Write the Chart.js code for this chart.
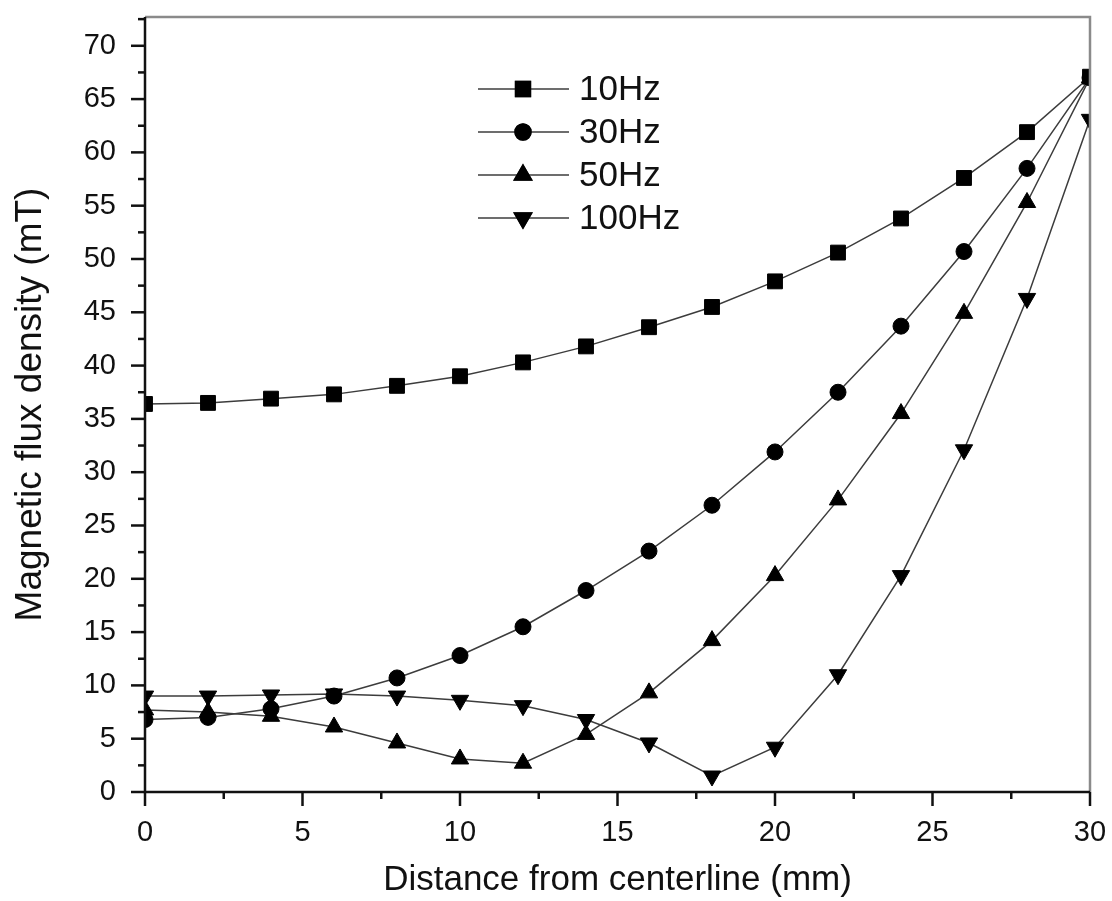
<!DOCTYPE html>
<html>
<head>
<meta charset="utf-8">
<script src="https://cdn.jsdelivr.net/npm/chart.js@4.4.1/dist/chart.umd.min.js"></script>
<style>
  html, body { margin: 0; padding: 0; background: #fff; }
  #wrap { width: 1112px; height: 901px; }
</style>
</head>
<body>
<div id="wrap"><canvas id="c" width="1112" height="901"></canvas></div>
<script>
// Distance from centerline (mm)
const distance = [0, 2, 4, 6, 8, 10, 12, 14, 16, 18, 20, 22, 24, 26, 28, 30];

// Magnetic flux density (mT) per excitation frequency
const flux10Hz  = [36.4, 36.5, 36.9, 37.3, 38.1, 39.0, 40.3, 41.8, 43.6, 45.5, 47.9, 50.6, 53.8, 57.6, 61.9, 67.1];
const flux30Hz  = [6.8, 7.0, 7.8, 9.0, 10.7, 12.8, 15.5, 18.9, 22.6, 26.9, 31.9, 37.5, 43.7, 50.7, 58.5, 67.0];
const flux50Hz  = [7.7, 7.5, 7.1, 6.1, 4.6, 3.1, 2.7, 5.4, 9.3, 14.2, 20.3, 27.4, 35.5, 44.9, 55.3, 67.0];
const flux100Hz = [9.0, 9.0, 9.1, 9.2, 9.0, 8.6, 8.1, 6.8, 4.6, 1.5, 4.2, 11.0, 20.3, 32.1, 46.3, 63.1];

const seriesLabels = ['10Hz', '30Hz', '50Hz', '100Hz'];

const yTickLabels = [0, 5, 10, 15, 20, 25, 30, 35, 40, 45, 50, 55, 60, 65, 70];
const xTickLabels = [0, 5, 10, 15, 20, 25, 30];

const FONT = 'Liberation Sans, Arial, Helvetica, sans-serif';
const LINE = '#3c3c3c';

function toPoints(ys) {
  return distance.map((x, i) => ({ x: x, y: ys[i] }));
}

const markers = [
  { pointStyle: 'rect',     radius: 10.5, rotation: 0 },
  { pointStyle: 'circle',   radius: 8,    rotation: 0 },
  { pointStyle: 'triangle', radius: 10,   rotation: 0 },
  { pointStyle: 'triangle', radius: 10,   rotation: 180 }
];

const allSeries = [flux10Hz, flux30Hz, flux50Hz, flux100Hz];

const datasets = allSeries.map((ys, i) => ({
  label: seriesLabels[i],
  data: toPoints(ys),
  borderColor: LINE,
  borderWidth: 1.5,
  backgroundColor: '#000',
  pointStyle: markers[i].pointStyle,
  pointRadius: markers[i].radius,
  pointRotation: markers[i].rotation,
  pointBackgroundColor: '#000',
  pointBorderColor: '#000',
  pointBorderWidth: 1,
  pointHoverRadius: markers[i].radius,
  tension: 0,
  fill: false
}));

// Frame, major/minor tick marks and the in-plot legend
const framePlugin = {
  id: 'frame',
  afterDraw(chart) {
    const ctx = chart.ctx;
    const a = chart.chartArea;
    const xs = chart.scales.x;
    const ys = chart.scales.y;
    ctx.save();

    // top and right borders (lighter)
    ctx.strokeStyle = '#8a8a8a';
    ctx.lineWidth = 2.5;
    ctx.beginPath();
    ctx.moveTo(a.left, a.top);
    ctx.lineTo(a.right, a.top);
    ctx.lineTo(a.right, a.bottom);
    ctx.stroke();

    // left and bottom axes
    ctx.strokeStyle = '#111';
    ctx.lineWidth = 2.5;
    ctx.beginPath();
    ctx.moveTo(a.left, a.top);
    ctx.lineTo(a.left, a.bottom);
    ctx.lineTo(a.right, a.bottom);
    ctx.stroke();

    // tick marks, pointing outward
    ctx.lineWidth = 2.5;
    ys.ticks.forEach(t => {
      const p = ys.getPixelForValue(t.value);
      const major = Math.abs(t.value % 5) < 1e-6;
      const len = major ? 14 : 7;
      ctx.beginPath();
      ctx.moveTo(a.left - len, p);
      ctx.lineTo(a.left, p);
      ctx.stroke();
    });
    xs.ticks.forEach(t => {
      const p = xs.getPixelForValue(t.value);
      const major = Math.abs(t.value % 5) < 1e-6;
      const len = major ? 14 : 7;
      ctx.beginPath();
      ctx.moveTo(p, a.bottom);
      ctx.lineTo(p, a.bottom + len);
      ctx.stroke();
    });

    // legend
    const lx0 = 478, lx1 = 569, mx = 523, tx = 579;
    const rows = [89, 132, 175, 218];
    ctx.font = '35px ' + FONT;
    ctx.textBaseline = 'middle';
    ctx.textAlign = 'left';
    chart.data.datasets.forEach((ds, i) => {
      const y = rows[i];
      ctx.strokeStyle = LINE;
      ctx.lineWidth = 1.5;
      ctx.beginPath();
      ctx.moveTo(lx0, y);
      ctx.lineTo(lx1, y);
      ctx.stroke();
      Chart.helpers.drawPoint(ctx, {
        pointStyle: ds.pointStyle,
        radius: ds.pointRadius,
        rotation: ds.pointRotation,
        borderWidth: 1
      }, mx, y);
      ctx.fillStyle = '#000';
      ctx.strokeStyle = '#000';
      ctx.fill();
      ctx.stroke();
      ctx.fillStyle = '#111';
      ctx.fillText(ds.label, tx, y + 1);
    });
    ctx.restore();
  }
};

function noPad(scale) {
  scale.paddingTop = 0;
  scale.paddingBottom = 0;
  scale.paddingLeft = 0;
  scale.paddingRight = 0;
}

new Chart(document.getElementById('c'), {
  type: 'line',
  data: { datasets: datasets },
  options: {
    responsive: false,
    animation: false,
    devicePixelRatio: 1,
    layout: { padding: { top: 17, right: 22, left: 0, bottom: 0 } },
    plugins: {
      legend: { display: false },
      tooltip: { enabled: false }
    },
    scales: {
      x: {
        type: 'linear',
        min: 0,
        max: 30,
        afterBuildTicks(scale) {
          const t = [];
          for (let v = 0; v <= 30 + 1e-9; v += 2.5) t.push({ value: v });
          scale.ticks = t;
        },
        afterFit(scale) { scale.height = 109; noPad(scale); },
        grid: { display: false, drawTicks: false },
        border: { display: false },
        ticks: {
          padding: 24,
          autoSkip: false,
          maxRotation: 0,
          color: '#111',
          font: { family: FONT, size: 29 },
          callback(v) { return xTickLabels.includes(v) ? String(v) : ''; }
        },
        title: {
          display: true,
          text: 'Distance from centerline (mm)',
          color: '#111',
          font: { family: FONT, size: 35 },
          padding: 0
        }
      },
      y: {
        type: 'linear',
        min: 0,
        max: 72.7,
        afterBuildTicks(scale) {
          const t = [];
          for (let v = 0; v <= 72.5 + 1e-9; v += 2.5) t.push({ value: v });
          scale.ticks = t;
        },
        afterFit(scale) { scale.width = 145; noPad(scale); },
        grid: { display: false, drawTicks: false },
        border: { display: false },
        ticks: {
          padding: 29,
          autoSkip: false,
          color: '#111',
          font: { family: FONT, size: 29 },
          callback(v) { return yTickLabels.includes(v) ? String(v) : ''; }
        },
        title: {
          display: true,
          text: 'Magnetic flux density (mT)',
          color: '#111',
          font: { family: FONT, size: 37 },
          padding: 9
        }
      }
    }
  },
  plugins: [framePlugin]
});
</script>
</body>
</html>
